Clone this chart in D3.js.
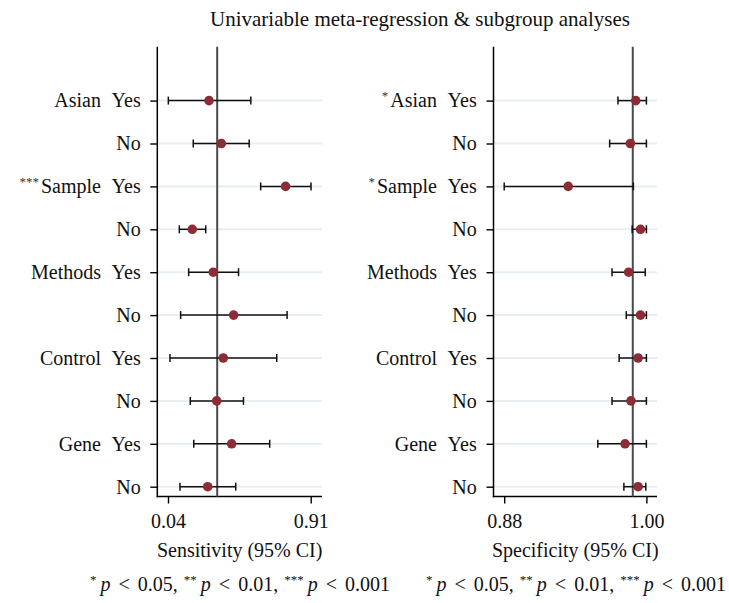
<!DOCTYPE html>
<html><head><meta charset="utf-8">
<script src="https://cdn.jsdelivr.net/npm/d3@7"></script>
<style>body{margin:0;background:#fff}svg{display:block}</style>
</head><body>
<svg id="c" width="729" height="603"></svg>
<script>
const groups = ["Asian","Asian","Sample","Sample","Methods","Methods","Control","Control","Gene","Gene"];
const levels = ["Yes","No","Yes","No","Yes","No","Yes","No","Yes","No"];
const sensStars = ["","","***","","","","","","",""];
const specStars = ["*","","*","","","","","","",""];
const sensEst = [0.29,0.365,0.757,0.188,0.316,0.44,0.377,0.337,0.428,0.282];
const sensLo  = [0.042,0.194,0.605,0.109,0.166,0.117,0.052,0.176,0.197,0.113];
const sensHi  = [0.545,0.535,0.912,0.27,0.47,0.766,0.703,0.50,0.66,0.453];
const sensPooled = 0.34;
const specEst = [0.991,0.9865,0.934,0.995,0.985,0.995,0.993,0.987,0.982,0.993];
const specLo  = [0.976,0.969,0.880,0.988,0.971,0.983,0.977,0.971,0.959,0.981];
const specHi  = [1.0,1.0,0.989,1.0,0.999,1.0,1.0,1.0,1.0,0.9995];
const specPooled = 0.9885;
const sensTicks = [0.04,0.91];
const specTicks = [0.88,1.00];

const svg = d3.select("#c");
const FONT = "'Liberation Serif', 'DejaVu Serif', serif";
const fs = 20;

svg.append("text").attr("x",420).attr("y",26).attr("text-anchor","middle")
  .style("font-family",FONT).style("font-size","21px").attr("fill","#111")
  .text("Univariable meta-regression & subgroup analyses");

const rows = d3.range(groups.length);
const y = d3.scalePoint().domain(rows).range([100.6,486.7]);

function panel(cfg){
  const g = svg.append("g");
  const x = d3.scaleLinear().domain(cfg.tdom).range(cfg.trange);
  const top = 46.7, bot = 496.5;
  g.selectAll("line.grid").data(rows).join("line")
    .attr("x1",cfg.left).attr("x2",cfg.right)
    .attr("y1",d=>y(d)).attr("y2",d=>y(d))
    .attr("stroke","#e6eef2").attr("stroke-width",2);
  const ya = g.append("g").attr("transform",`translate(${cfg.left},0)`)
    .call(d3.axisLeft(y).tickSize(7).tickFormat(""));
  ya.select(".domain").remove();
  ya.selectAll(".tick line").attr("stroke","#000").attr("stroke-width",1.4);
  g.append("line").attr("x1",cfg.left).attr("x2",cfg.left).attr("y1",top).attr("y2",bot+0.7)
    .attr("stroke","#000").attr("stroke-width",1.5);
  const xa = g.append("g").attr("transform",`translate(0,${bot})`)
    .call(d3.axisBottom(x).tickValues(cfg.ticks).tickSize(7).tickFormat(d3.format(".2f")));
  xa.select(".domain").remove();
  xa.selectAll(".tick line").attr("stroke","#000").attr("stroke-width",1.4);
  xa.selectAll(".tick text").attr("y",17).attr("dy","0.71em")
    .style("font-family",FONT).style("font-size",fs+"px").attr("fill","#111");
  g.append("line").attr("x1",cfg.left-0.7).attr("x2",cfg.right).attr("y1",bot).attr("y2",bot)
    .attr("stroke","#000").attr("stroke-width",1.5);
  g.append("line").attr("x1",x(cfg.pooled)).attr("x2",x(cfg.pooled)).attr("y1",top).attr("y2",bot)
    .attr("stroke","#4a4a4a").attr("stroke-width",2);
  const eb = g.selectAll("g.eb").data(rows).join("g");
  eb.append("line").attr("x1",i=>x(cfg.lo[i])).attr("x2",i=>x(cfg.hi[i]))
    .attr("y1",i=>y(i)).attr("y2",i=>y(i)).attr("stroke","#111").attr("stroke-width",1.5);
  eb.append("line").attr("x1",i=>x(cfg.lo[i])).attr("x2",i=>x(cfg.lo[i]))
    .attr("y1",i=>y(i)-4).attr("y2",i=>y(i)+4).attr("stroke","#111").attr("stroke-width",1.5);
  eb.append("line").attr("x1",i=>x(cfg.hi[i])).attr("x2",i=>x(cfg.hi[i]))
    .attr("y1",i=>y(i)-4).attr("y2",i=>y(i)+4).attr("stroke","#111").attr("stroke-width",1.5);
  eb.append("circle").attr("cx",i=>x(cfg.est[i])).attr("cy",i=>y(i)).attr("r",4.8)
    .attr("fill","#8b2c36");
  const base = i => y(i) + 0.34*fs;
  g.selectAll("text.lvl").data(rows).join("text")
    .attr("x",cfg.lvlX).attr("y",base).attr("text-anchor","end")
    .style("font-family",FONT).style("font-size",fs+"px").attr("fill","#111")
    .text(i=>levels[i]);
  const gl = g.selectAll("text.grp").data(rows.filter(i=>levels[i]==="Yes")).join("text")
    .attr("x",cfg.grpX).attr("y",base).attr("text-anchor","end")
    .style("font-family",FONT).style("font-size",fs+"px").attr("fill","#111");
  gl.each(function(i){
    const t = d3.select(this);
    if(cfg.stars[i]){
      t.append("tspan").style("font-size","13px").attr("dy","-7").attr("fill","#333").text(cfg.stars[i]);
      t.append("tspan").attr("dy","7").attr("dx","2").text(groups[i]);
    } else t.text(groups[i]);
  });
  g.append("text").attr("x",(cfg.left+cfg.right)/2).attr("y",557).attr("text-anchor","middle")
    .style("font-family",FONT).style("font-size",fs+"px").attr("fill","#111").text(cfg.title);
  const fn = g.append("text").attr("x",cfg.fnX).attr("y",591).attr("text-anchor","middle")
    .style("font-family",FONT).style("font-size",fs+"px").style("word-spacing","3px").attr("fill","#111");
  const parts = [["*","0.05,"],["**","0.01,"],["***","0.001"]];
  parts.forEach(([s,v],k)=>{
    fn.append("tspan").style("font-size","13px").attr("dy","-7").attr("dx",k?"6":"0").text(s);
    fn.append("tspan").attr("dy","7").attr("dx","4").style("font-style","italic").text("p");
    fn.append("tspan").text(" < "+v);
  });
}

panel({left:157.3,right:322,tdom:sensTicks,trange:[168,310.7],ticks:sensTicks,pooled:sensPooled,
  est:sensEst,lo:sensLo,hi:sensHi,stars:sensStars,lvlX:140.7,grpX:101,
  title:"Sensitivity (95% CI)",fnX:240});
panel({left:493.5,right:657,tdom:specTicks,trange:[504.2,646.4],ticks:specTicks,pooled:specPooled,
  est:specEst,lo:specLo,hi:specHi,stars:specStars,lvlX:476.7,grpX:437,
  title:"Specificity (95% CI)",fnX:576});
</script>
</body></html>
